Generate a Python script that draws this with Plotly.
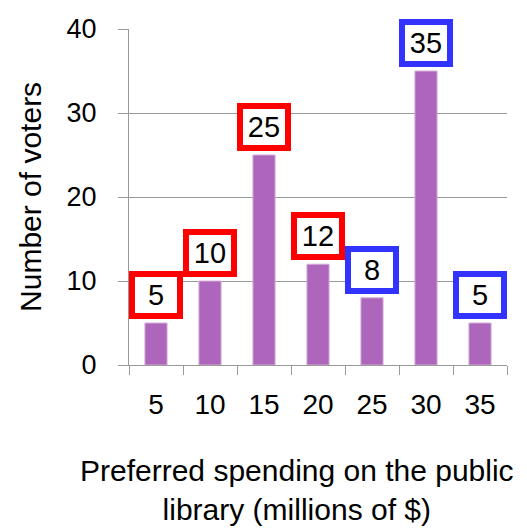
import plotly.graph_objects as go

categories = ["5", "10", "15", "20", "25", "30", "35"]
voters = [5, 10, 25, 12, 8, 35, 5]
box_colors = ["#FF0000", "#FF0000", "#FF0000", "#FF0000", "#3333FF", "#3333FF", "#3333FF"]
y_ticks = [0, 10, 20, 30, 40]

FONT = "Liberation Sans"

fig = go.Figure()
fig.add_trace(go.Bar(
    x=categories, y=voters,
    marker=dict(color="#AD66BB", line=dict(color="#D4AEDB", width=1)),
    width=0.41,
    hoverinfo="skip",
))

for i, (v, col) in enumerate(zip(voters, box_colors)):
    fig.add_annotation(
        x=i, y=v, xref="x", yref="y", text=str(v), showarrow=False,
        yanchor="bottom", yshift=4,
        width=42, height=36, borderwidth=6, borderpad=0,
        bordercolor=col, bgcolor="white",
        font=dict(family=FONT, size=29, color="black"),
    )

fig.add_annotation(
    xref="paper", yref="paper", x=0.444, y=-0.372, yanchor="middle",
    text="Preferred spending on the public<br>library (millions of $)",
    showarrow=False, font=dict(family=FONT, size=30, color="black"),
)
fig.add_annotation(
    xref="paper", yref="paper", x=-0.262, y=0.5, xanchor="center", yanchor="middle",
    text="Number of voters", textangle=-90,
    showarrow=False, font=dict(family=FONT, size=30, color="black"),
)

fig.update_layout(
    width=527, height=529,
    margin=dict(l=129, r=20, t=29, b=164),
    plot_bgcolor="white", paper_bgcolor="white",
    showlegend=False,
    font=dict(family=FONT, size=28, color="black"),
)
fig.update_xaxes(
    type="category", range=[-0.5, 6.5],
    tickson="boundaries", ticks="outside", ticklen=9, tickcolor="#999999",
    showline=True, linecolor="#999999", linewidth=1,
    showgrid=False, tickfont=dict(family=FONT, size=28),
    ticklabelstandoff=14,
)
fig.update_yaxes(
    range=[0, 40], tickvals=y_ticks,
    ticks="outside", ticklen=10, tickcolor="#999999",
    showline=True, linecolor="#999999", linewidth=1,
    showgrid=True, gridcolor="#999999", gridwidth=1,
    zeroline=False, tickfont=dict(family=FONT, size=27),
    ticklabelstandoff=16,
)

fig.write_html(
    "out.html",
    config={"displayModeBar": False},
    post_script="document.body.style.margin='0';document.body.style.overflow='hidden';",
)
